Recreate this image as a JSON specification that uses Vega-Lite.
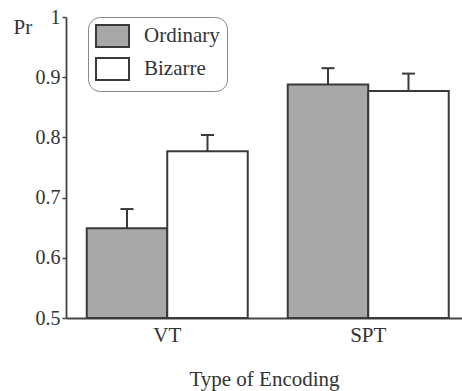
{
  "$schema": "https://vega.github.io/schema/vega-lite/v6.json",
  "autosize": {"type": "none"},
  "padding": {"left": 66, "top": 17, "right": 0, "bottom": 73},
  "width": 396,
  "height": 301,
  "background": "white",
  "config": {
    "view": {"stroke": null},
    "font": "Liberation Serif",
    "axis": {"labelFont": "Liberation Serif", "titleFont": "Liberation Serif", "labelColor": "#333", "titleColor": "#333", "titleFontWeight": "normal"},
    "legend": {"labelFont": "Liberation Serif"}
  },
  "data": {
    "values": [
      {"type": "VT", "group": "Ordinary", "value": 0.649, "upper": 0.681},
      {"type": "VT", "group": "Bizarre", "value": 0.777, "upper": 0.804},
      {"type": "SPT", "group": "Ordinary", "value": 0.888, "upper": 0.915},
      {"type": "SPT", "group": "Bizarre", "value": 0.877, "upper": 0.906}
    ]
  },
  "encoding": {
    "x": {
      "field": "type", "type": "nominal", "sort": ["VT", "SPT"],
      "scale": {"paddingInner": 0.199, "paddingOuter": 0.0846, "align": 0.61},
      "axis": {
        "title": "Type of Encoding", "labelAngle": 0, "ticks": false,
        "labelFontSize": 21, "labelPadding": 6, "titleFontSize": 21, "titlePadding": 23,
        "domainColor": "#444", "domainWidth": 1.8
      }
    },
    "xOffset": {"field": "group", "type": "nominal", "sort": ["Ordinary", "Bizarre"], "scale": {"paddingInner": 0, "paddingOuter": 0}}
  },
  "layer": [
    {
      "mark": {"type": "bar", "stroke": "#3a3a3a", "strokeWidth": 2},
      "encoding": {
        "y": {
          "field": "value", "type": "quantitative",
          "scale": {"domain": [0.5, 1], "zero": false, "nice": false},
          "axis": {
            "title": "Pr", "titleAngle": 0, "titleX": -53, "titleY": 16, "titleAlign": "left", "titleBaseline": "alphabetic",
            "titleFontSize": 21, "values": [0.5, 0.6, 0.7, 0.8, 0.9, 1],
            "labelExpr": "datum.value == 1 ? '1' : format(datum.value, '.1f')",
            "labelFontSize": 20, "labelPadding": 2, "tickSize": 4, "grid": false,
            "domainColor": "#444", "domainWidth": 1.8, "tickColor": "#444", "tickWidth": 1.5
          }
        },
        "y2": {"datum": 0.5},
        "fill": {
          "field": "group", "type": "nominal", "sort": ["Ordinary", "Bizarre"],
          "scale": {"domain": ["Ordinary", "Bizarre"], "range": ["#a8a8a8", "#ffffff"]},
          "legend": {
            "title": null, "orient": "none", "legendX": 22, "legendY": 0,
            "padding": 7, "cornerRadius": 12, "strokeColor": "#888", "fillColor": "white",
            "symbolType": "M-1,-1H2V1H-1Z", "symbolSize": 484, "symbolStrokeColor": "#3a3a3a", "symbolStrokeWidth": 2,
            "labelFontSize": 21, "labelColor": "#333", "labelOffset": 25, "rowPadding": 3
          }
        }
      }
    },
    {
      "mark": {"type": "rule", "stroke": "#3a3a3a", "strokeWidth": 2},
      "encoding": {
        "y": {"field": "value", "type": "quantitative"},
        "y2": {"field": "upper"}
      }
    },
    {
      "mark": {"type": "tick", "color": "#3a3a3a", "thickness": 2, "size": 13, "opacity": 1},
      "encoding": {
        "y": {"field": "upper", "type": "quantitative"}
      }
    }
  ]
}
